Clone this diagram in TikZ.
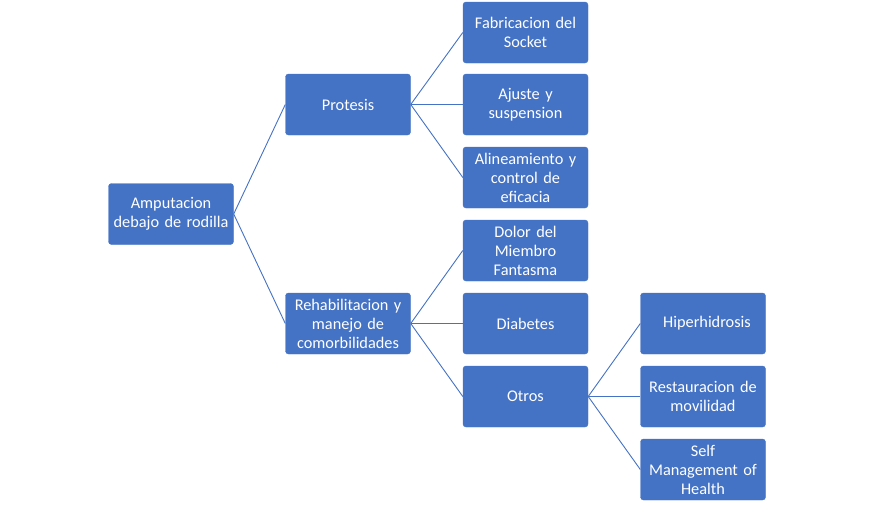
\documentclass[tikz,border=0pt]{standalone}
\usepackage{fontspec}
\setmainfont{Carlito}
\usepackage{xcolor}
\usepackage{tikz}
\usetikzlibrary{positioning}

\definecolor{boxblue}{HTML}{4472C4}
\tikzset{
    topic/.style={
        draw=boxblue, fill=boxblue, rounded corners=3pt,
        minimum width=125pt, minimum height=61pt,
        text width=124pt, align=center, text=white,
        font=\fontsize{16.3}{19}\selectfont, inner sep=0pt
    },
    branch/.style={draw=boxblue, line width=0.9pt}
}

\begin{document}
\begin{tikzpicture}[x=1pt, y=-1pt]
    \useasboundingbox (0,0) rectangle (873,509);

    % root and first level
    \node[topic] (amp) at (171,214) {Amputacion\\debajo de rodilla};
    \node[topic] (prot) at (348,104.5) {Protesis};
    \node[topic] (rehab) at (348,323.5) {Rehabilitacion y\\manejo de\\comorbilidades};

    % second level
    \node[topic] (fab) at (525.5,32.5) {Fabricacion del\\Socket};
    \node[topic] (ajus) at (525.5,104.5) {Ajuste y\\suspension};
    \node[topic] (alin) at (525.5,177.5) {Alineamiento y\\control de\\eficacia};
    \node[topic] (dolor) at (525.5,250.5) {Dolor del\\Miembro\\Fantasma};
    \node[topic] (diab) at (525.5,323.5) {Diabetes};
    \node[topic] (otros) at (525.5,396.5) {Otros};

    % third level
    \node[topic] (hiper) at (703,323.5) {\hspace*{8pt}Hiperhidrosis};
    \node[topic] (rest) at (703,396.5) {Restauracion de\\movilidad};
    \node[topic] (self) at (703,469.5) {Self\\Management of\\Health};

    \foreach \kid in {prot, rehab}
        \draw[branch] (amp.east) -- (\kid.west);
    \foreach \kid in {fab, ajus, alin}
        \draw[branch] (prot.east) -- (\kid.west);
    \foreach \kid in {dolor, diab, otros}
        \draw[branch] (rehab.east) -- (\kid.west);
    \foreach \kid in {hiper, rest, self}
        \draw[branch] (otros.east) -- (\kid.west);
\end{tikzpicture}
\end{document}
